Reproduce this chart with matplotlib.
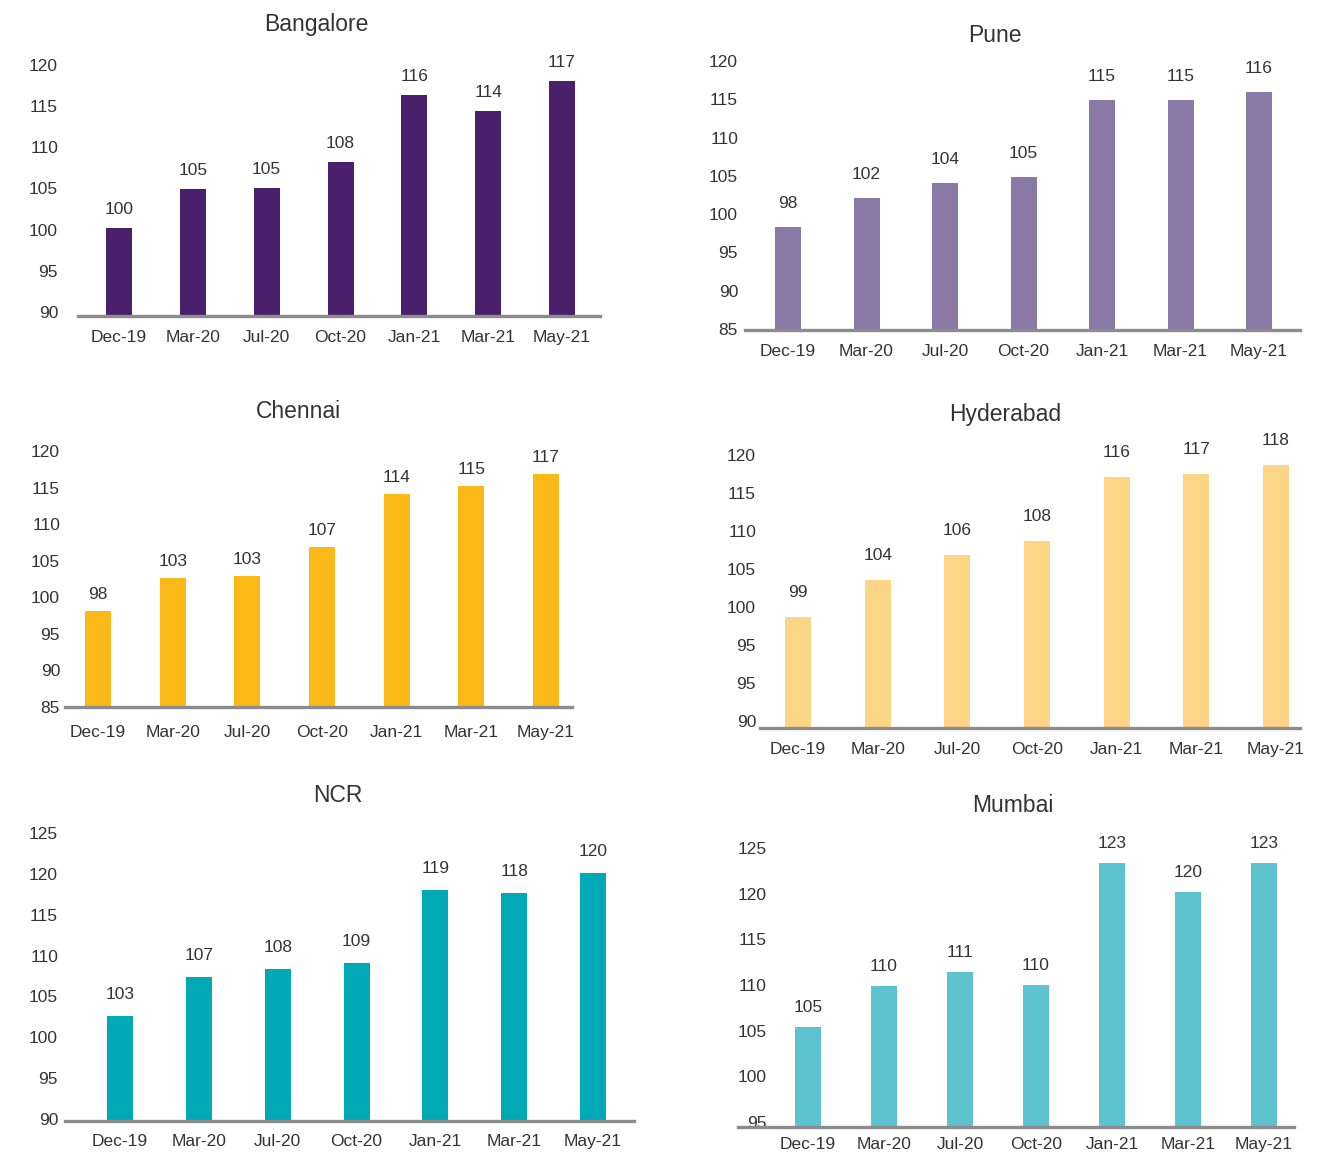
import matplotlib
matplotlib.use("Agg")
import matplotlib.pyplot as plt

plt.rcParams['font.family'] = ['Liberation Sans', 'DejaVu Sans']

categories = ["Dec-19", "Mar-20", "Jul-20", "Oct-20", "Jan-21", "Mar-21", "May-21"]

cities = ["Bangalore", "Pune", "Chennai", "Hyderabad", "NCR", "Mumbai"]

# value labels shown above bars
bangalore_labels = [100, 105, 105, 108, 116, 114, 117]
pune_labels = [98, 102, 104, 105, 115, 115, 116]
chennai_labels = [98, 103, 103, 107, 114, 115, 117]
hyderabad_labels = [99, 104, 106, 108, 116, 117, 118]
ncr_labels = [103, 107, 108, 109, 119, 118, 120]
mumbai_labels = [105, 110, 111, 110, 123, 120, 123]

# bar heights
bangalore_heights = [100.2, 104.9, 105.1, 108.2, 116.4, 114.4, 118.1]
pune_heights = [98.3, 102.1, 104.1, 104.8, 114.9, 114.9, 115.9]
chennai_heights = [98.1, 102.6, 102.9, 106.9, 114.1, 115.2, 116.8]
hyderabad_heights = [98.7, 103.6, 106.8, 108.7, 117.1, 117.5, 118.7]
ncr_heights = [102.6, 107.4, 108.4, 109.1, 118.0, 117.7, 120.1]
mumbai_heights = [105.4, 109.9, 111.4, 110.0, 123.4, 120.2, 123.4]

# y tick values and their printed labels
bangalore_yticks = [90, 95, 100, 105, 110, 115, 120]
bangalore_yticklabels = ["90", "95", "100", "105", "110", "115", "120"]
pune_yticks = [85, 90, 95, 100, 105, 110, 115, 120]
pune_yticklabels = ["85", "90", "95", "100", "105", "110", "115", "120"]
chennai_yticks = [85, 90, 95, 100, 105, 110, 115, 120]
chennai_yticklabels = ["85", "90", "95", "100", "105", "110", "115", "120"]
hyderabad_yticks = [85, 90, 95, 100, 105, 110, 115, 120]
hyderabad_yticklabels = ["90", "95", "95", "100", "105", "110", "115", "120"]
ncr_yticks = [90, 95, 100, 105, 110, 115, 120, 125]
ncr_yticklabels = ["90", "95", "100", "105", "110", "115", "120", "125"]
mumbai_yticks = [95, 100, 105, 110, 115, 120, 125]
mumbai_yticklabels = ["95", "100", "105", "110", "115", "120", "125"]

colors = ["#4A1F6B", "#8A79A6", "#FBB918", "#FDD587", "#00A9B6", "#5DC3CE"]

labels_all = [bangalore_labels, pune_labels, chennai_labels, hyderabad_labels, ncr_labels, mumbai_labels]
heights_all = [bangalore_heights, pune_heights, chennai_heights, hyderabad_heights, ncr_heights, mumbai_heights]
yticks_all = [bangalore_yticks, pune_yticks, chennai_yticks, hyderabad_yticks, ncr_yticks, mumbai_yticks]
ytl_all = [bangalore_yticklabels, pune_yticklabels, chennai_yticklabels, hyderabad_yticklabels, ncr_yticklabels, mumbai_yticklabels]

# layout in pixels: line_x0, line_x1, first_center, last_center, v0, v0_px, v1, v1_px, line_px,
#                   title_x, title_y, ylabel_right, value_label_gap, xlabel_gap
layout = [
    (78, 600, 119, 562, 90, 312, 120, 65, 316, 316, 25, 58, 20, 22),
    (745, 1300, 788, 1259, 85, 329, 120, 61, 330, 995, 35, 738, 25, 22),
    (65, 572, 98, 546, 85, 707, 120, 451, 707, 298, 411, 60, 18, 26),
    (760, 1300, 798, 1276, 85, 721, 120, 455, 728, 1005, 415, 756, 26, 22),
    (65, 634, 120, 593, 90, 1119, 125, 833, 1121, 338, 796, 58, 23, 21),
    (738, 1294, 808, 1264, 95, 1122, 125, 848, 1127, 1013, 805, 767, 21, 18),
]

W, H = 1334, 1157
DPI = 100
fig = plt.figure(figsize=(W / DPI, H / DPI), dpi=DPI)
fig.patch.set_facecolor("white")
TXT = "#333333"
px2pt = 72 / DPI
FS = 12.5

for i, city in enumerate(cities):
    (lx0, lx1, c0, c1, v0, v0px, v1, v1px, linepx, tx, ty, ylr, vgap, xgap) = layout[i]
    step = (c1 - c0) / 6.0
    scale = (v0px - v1px) / (v1 - v0)  # px per unit
    top_px = v1px - 25
    ax = fig.add_axes([lx0 / W, 1 - linepx / H, (lx1 - lx0) / W, (linepx - top_px) / H])
    ymin = v0 - (linepx - v0px) / scale
    ymax = v1 + (v1px - top_px) / scale
    ax.set_ylim(ymin, ymax)
    xmin = -(c0 - lx0) / step
    xmax = 6 + (lx1 - c1) / step
    ax.set_xlim(xmin, xmax)
    x = list(range(len(categories)))
    ax.bar(x, [h - ymin for h in heights_all[i]], bottom=ymin, width=26 / step,
           color=colors[i], zorder=2)
    for xi, h, lab in zip(x, heights_all[i], labels_all[i]):
        ax.annotate(str(lab), (xi, h), xytext=(0, vgap * px2pt), textcoords="offset points",
                    ha="center", va="center_baseline", fontsize=FS, color=TXT)
    ax.set_xticks(x)
    ax.set_xticklabels(categories, fontsize=FS, color=TXT)
    ax.set_yticks(yticks_all[i])
    ax.set_yticklabels(ytl_all[i], fontsize=FS, color=TXT)
    ax.tick_params(axis="x", length=0, pad=(xgap - 8) * px2pt)
    ax.tick_params(axis="y", length=0, pad=(lx0 - ylr) * px2pt)
    for s in ["top", "right", "left"]:
        ax.spines[s].set_visible(False)
    ax.spines["bottom"].set_color("#8C8C8C")
    ax.spines["bottom"].set_linewidth(2.4)
    ax.spines["bottom"].set_zorder(3)
    ax.set_facecolor("none")
    fig.text(tx / W, 1 - ty / H, city, ha="center", va="center", fontsize=16.5, color=TXT)

fig.savefig("out.png", dpi=DPI, facecolor="white")
